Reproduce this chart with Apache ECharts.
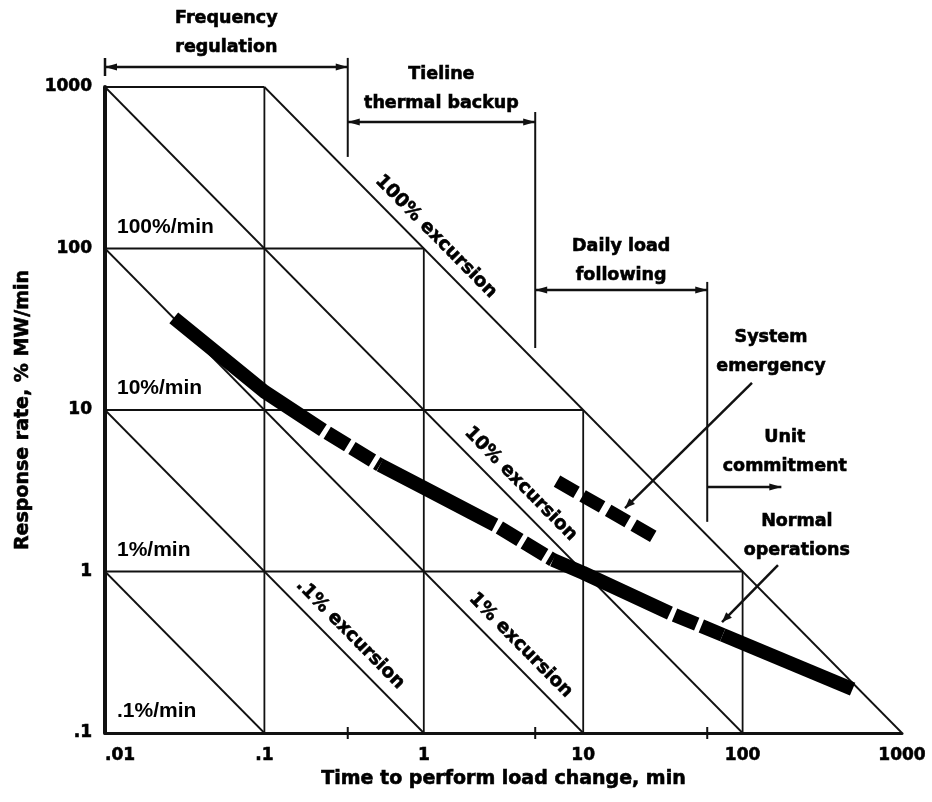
<!DOCTYPE html>
<html>
<head>
<meta charset="utf-8">
<script src="https://cdn.jsdelivr.net/npm/echarts@6/dist/echarts.min.js"></script>
<style>
  html, body { margin: 0; padding: 0; background: #fff; }
  #chart { width: 932px; height: 802px; }
</style>
</head>
<body>
<div id="chart"></div>
<script>
// ---- Axis ticks -------------------------------------------------------------
const timeTicks = [0.01, 0.1, 1, 10, 100, 1000];             // min
const timeTickLabels = ['.01', '.1', '1', '10', '100', '1000'];
const rateTicks = [0.1, 1, 10, 100, 1000];                   // % MW/min
const rateTickLabels = ['.1', '1', '10', '100', '1000'];

// ---- Reference grid ---------------------------------------------------------
// constant response-rate lines (% MW/min)
const rateLevels = [1000, 100, 10, 1];
const rateLabelLevels = [100, 10, 1, 0.1];
const rateLabels = ['100%/min', '10%/min', '1%/min', '.1%/min'];
// constant time lines (min)
const timeLevels = [0.1, 1, 10, 100];
// constant excursion lines: rate x time = excursion (% of capacity)
const excursions = [100, 10, 1, 0.1, 0.01];
const excursionLabels = ['100% excursion', '10% excursion', '1% excursion', '.1% excursion'];
const excursionLabelTimes = [1, 3.4, 3.4, 0.29];

// ---- Unit response curves: [time min, rate %/min] -----------------------------
const normalSolid = [
  [[0.027, 37.2], [0.1, 13.0], [0.233, 7.5]],
  [[0.531, 4.56], [1, 3.3], [2.8, 1.94]],
  [[6.46, 1.18], [10, 0.98], [35, 0.553]],
  [[75, 0.405], [490, 0.187]]
];
const normalDashed = [
  [[0.233, 7.5], [0.531, 4.56]],
  [[2.8, 1.94], [6.46, 1.18]],
  [[35, 0.553], [75, 0.405]]
];
const emergency = [[6.85, 3.63], [27.8, 1.64]];

// ---- Operating time scales (min) --------------------------------------------
const scaleNames = [['Frequency', 'regulation'], ['Tieline', 'thermal backup'],
                    ['Daily load', 'following'], ['Unit', 'commitment']];
const scaleSpans = [[0.01, 1 / 3], [1 / 3, 5], [5, 60], [60, 175]];
const scaleBounds = [1 / 3, 5, 60];

// ---- Annotation layout, in axis units (min, %/min) -----------------------------
const layout = {
  spanRates: [1330, 607, 55.3, 3.34],
  spanBars: [[1 / 3, 1514, 369], [5, 700, 24.2], [60, 62.1, 2.03]],
  spanLabelAt: [[0.0577, 2175], [1.29, 979], [17.3, 84.3], [184, 5.46]],
  emergencyLabelAt: [150.7, 22.9],
  emergencyLeader: [[114.5, 14.7], [18.3, 2.47]],
  normalLabelAt: [219, 1.66],
  normalLeader: [[166.7, 1.097], [74.3, 0.486]]
};

const WIDE = 'DejaVu Sans';
const PLAIN = 'Liberation Sans';
const INK = '#000';
const HEAVY = { textBorderColor: INK, textBorderWidth: 0.6 };

function tickFormatter(ticks, labels) {
  return v => {
    const i = ticks.findIndex(t => Math.abs(Math.log10(t) - Math.log10(v)) < 1e-6);
    return i < 0 ? '' : labels[i];
  };
}

function seg(points, lineStyle, z) {
  return {
    type: 'line', data: points, symbol: 'none', showSymbol: false,
    silent: true, animation: false, clip: false, z: z || 2,
    lineStyle: Object.assign({ color: '#111' }, lineStyle)
  };
}

const thin = { width: 1.8 };
const series = [];
rateLevels.forEach(r => series.push(seg([[0.01, r], [100 / r, r]], thin)));
timeLevels.forEach(t => series.push(seg([[t, 0.1], [t, 100 / t]], thin)));
excursions.forEach(p => {
  const t0 = Math.max(0.01, p / 1000);
  series.push(seg([[t0, p / t0], [p / 0.1, 0.1]], thin));
});
normalSolid.forEach(s => series.push(seg(s, { color: '#000', width: 14, cap: 'butt', join: 'round' }, 5)));
normalDashed.forEach(s => series.push(seg(s, { color: '#000', width: 14, type: [24, 5], dashOffset: 24, cap: 'butt' }, 5)));
series.push(seg(emergency, { color: '#000', width: 13, type: [22.5, 7], cap: 'butt' }, 5));

const chart = echarts.init(document.getElementById('chart'), null, { renderer: 'canvas' });

const axisLabelBase = Object.assign({ fontFamily: WIDE, fontWeight: 'bold', fontSize: 17, color: INK, showMinLabel: true, showMaxLabel: true }, HEAVY);
const nameStyle = Object.assign({ fontFamily: WIDE, fontWeight: 'bold', fontSize: 19, color: INK }, HEAVY);

chart.setOption({
  animation: false,
  backgroundColor: '#fff',
  grid: { left: 105, right: 30, top: 87, bottom: 69, containLabel: false, outerBoundsMode: 'none' },
  xAxis: {
    type: 'log', logBase: 10, min: 0.01, max: 1000,
    name: 'Time to perform load change, min', nameLocation: 'middle', nameGap: 37,
    nameTextStyle: nameStyle,
    axisLine: { show: true, lineStyle: { color: '#111', width: 3 } },
    axisTick: { show: false }, splitLine: { show: false }, minorTick: { show: false },
    axisLabel: Object.assign({ margin: 14, alignMinLabel: 'left', formatter: tickFormatter(timeTicks, timeTickLabels) }, axisLabelBase)
  },
  yAxis: {
    type: 'log', logBase: 10, min: 0.1, max: 1000,
    name: 'Response rate, % MW/min', nameLocation: 'middle', nameGap: 72, nameRotate: 90,
    nameTextStyle: nameStyle,
    axisLine: { show: true, lineStyle: { color: '#111', width: 4 } },
    axisTick: { show: false }, splitLine: { show: false }, minorTick: { show: false },
    axisLabel: Object.assign({ margin: 13, formatter: tickFormatter(rateTicks, rateTickLabels) }, axisLabelBase)
  },
  series
});

// ---- Annotations placed through the axis scales -----------------------------
const P = (t, r) => chart.convertToPixel({ gridIndex: 0 }, [t, r]);

const line = (a, b, w) => ({
  type: 'line', silent: true, z: 10,
  shape: { x1: a[0], y1: a[1], x2: b[0], y2: b[1] },
  style: { stroke: '#111', lineWidth: w || 2 }
});
const head = (tip, from, len, hw) => {
  len = len || 12; hw = hw || 3.5;
  const dx = tip[0] - from[0], dy = tip[1] - from[1], L = Math.hypot(dx, dy);
  const ux = dx / L, uy = dy / L;
  const bx = tip[0] - ux * len, by = tip[1] - uy * len;
  return {
    type: 'polygon', silent: true, z: 10,
    shape: { points: [[tip[0], tip[1]], [bx - uy * hw, by + ux * hw], [bx + uy * hw, by - ux * hw]] },
    style: { fill: '#111' }
  };
};
const label = (str, pos, o) => {
  o = o || {};
  return {
    type: 'text', silent: true, z: 10, x: pos[0], y: pos[1], rotation: o.rotation || 0,
    style: Object.assign({
      text: str, x: 0, y: 0, align: o.align || 'center', verticalAlign: o.va || 'middle',
      fontFamily: o.family || WIDE, fontWeight: 'bold', fontSize: o.size || 17.5,
      lineHeight: o.lh || 29, fill: INK
    }, o.light ? {} : { stroke: INK, lineWidth: 0.6 })
  };
};

const g = [];

// time-scale brackets
scaleSpans.forEach((span, i) => {
  const a = P(span[0], layout.spanRates[i]);
  const b = P(span[1], layout.spanRates[i]);
  g.push(line(a, b, 2.5));
  g.push(head(b, a));
  if (i < scaleSpans.length - 1) g.push(head(a, b));
  if (i === 0) g.push(line([a[0], a[1] - 9], [a[0], a[1] + 9], 2.5));
  g.push(label(scaleNames[i].join('\n'), P(layout.spanLabelAt[i][0], layout.spanLabelAt[i][1])));
});
layout.spanBars.forEach(bar => g.push(line(P(bar[0], bar[1]), P(bar[0], bar[2]), 2)));
const base = P(1, 0.1)[1];
scaleBounds.forEach(t => {
  const x = P(t, 0.1)[0];
  g.push(line([x, base - 6], [x, base + 6], 2));
});

// constant-rate labels
rateLabelLevels.forEach((r, i) => {
  const p = P(0.01, r);
  g.push(label(rateLabels[i], [p[0] + 12, p[1] - 7], { align: 'left', va: 'bottom', family: PLAIN, size: 21, light: true }));
});

// constant-excursion labels, set along their lines
const d0 = P(1, 1), d1 = P(10, 0.1);
const ang = Math.atan2(d1[1] - d0[1], d1[0] - d0[0]);
const nx = Math.sin(ang), ny = -Math.cos(ang);
excursionLabels.forEach((txt, i) => {
  const t = excursionLabelTimes[i];
  const foot = P(t, excursions[i] / t);
  g.push(label(txt, [foot[0] + 17 * nx, foot[1] + 17 * ny], { rotation: -ang, size: 18.5 }));
});

// curve callouts
g.push(label('System\nemergency', P(layout.emergencyLabelAt[0], layout.emergencyLabelAt[1])));
const e0 = P(...layout.emergencyLeader[0]), e1 = P(...layout.emergencyLeader[1]);
g.push(line(e0, e1, 2.5));
g.push(head(e1, e0, 10, 4));
g.push(label('Normal\noperations', P(layout.normalLabelAt[0], layout.normalLabelAt[1])));
const n0 = P(...layout.normalLeader[0]), n1 = P(...layout.normalLeader[1]);
g.push(line(n0, n1, 2.5));
g.push(head(n1, n0, 10, 4));

chart.setOption({ graphic: g });
</script>
</body>
</html>
